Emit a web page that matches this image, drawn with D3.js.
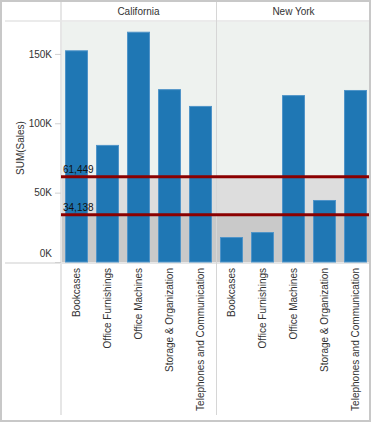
<!DOCTYPE html>
<html>
<head>
<meta charset="utf-8">
<script src="https://cdn.jsdelivr.net/npm/d3@7"></script>
<style>
  body { margin: 0; background: #fff; }
  text { font-family: "Liberation Sans", Arial, sans-serif; font-size: 10px; fill: #333; }
</style>
</head>
<body>
<div id="graph"></div>
<script>
// chart data
var states = ["California", "New York"];
var categories = ["Bookcases", "Office Furnishings", "Office Machines", "Storage & Organization", "Telephones and Communication"];
var californiaSales = [152600, 84400, 166000, 124600, 112500];
var newYorkSales = [18000, 21600, 120300, 44700, 124000];
var refLines = [61449, 34138];
var yTicks = [0, 50000, 100000, 150000];

var salesByState = { "California": californiaSales, "New York": newYorkSales };

var width = 371, height = 422;
var plotLeft = 61, plotRight = 371, plotTop = 22, plotBottom = 262;

var svg = d3.select("#graph")
    .append("svg")
    .attr("width", width)
    .attr("height", height);

// scales
var xState = d3.scaleBand()
    .domain(states)
    .range([plotLeft, plotRight]);

var xCat = d3.scaleBand()
    .domain(categories)
    .range([0, xState.bandwidth()])
    .paddingInner(0.26)
    .paddingOuter(0.13);

var y = d3.scaleLinear()
    .domain([0, 173000])
    .range([plotBottom, plotTop]);

// pane background and reference bands
svg.append("rect")
    .attr("x", plotLeft)
    .attr("y", plotTop)
    .attr("width", plotRight - plotLeft)
    .attr("height", plotBottom - plotTop)
    .attr("fill", "#eef2ef");

svg.append("rect")
    .attr("x", plotLeft)
    .attr("y", y(refLines[0]))
    .attr("width", plotRight - plotLeft)
    .attr("height", y(refLines[1]) - y(refLines[0]))
    .attr("fill", "#dddddd");

svg.append("rect")
    .attr("x", plotLeft)
    .attr("y", y(refLines[1]))
    .attr("width", plotRight - plotLeft)
    .attr("height", y(0) - y(refLines[1]))
    .attr("fill", "#c9c9c9");

// grid lines / dividers
svg.append("line")
    .attr("x1", 5).attr("x2", 369)
    .attr("y1", 21).attr("y2", 21)
    .attr("stroke", "#ebebeb").attr("stroke-width", 2);

svg.append("line")
    .attr("x1", 5).attr("x2", 369)
    .attr("y1", 263).attr("y2", 263)
    .attr("stroke", "#e6e6e6").attr("stroke-width", 2);

svg.append("line")
    .attr("x1", plotLeft).attr("x2", plotLeft)
    .attr("y1", 2).attr("y2", 415)
    .attr("stroke", "#e6e6e6").attr("stroke-width", 2);

svg.append("line")
    .attr("x1", xState("New York") + 0.5).attr("x2", xState("New York") + 0.5)
    .attr("y1", 2).attr("y2", 415)
    .attr("stroke", "#d6d6d6").attr("stroke-width", 1);

// state headers
svg.selectAll(".header")
    .data(states)
    .enter().append("text")
    .attr("class", "header")
    .attr("x", function (d) { return xState(d) + xState.bandwidth() / 2; })
    .attr("y", 11)
    .attr("dy", "0.35em")
    .attr("text-anchor", "middle")
    .text(function (d) { return d; });

// bars + category axis per state
states.forEach(function (s) {
    var g = svg.append("g")
        .attr("transform", "translate(" + xState(s) + ",0)");

    g.selectAll(".bar")
        .data(salesByState[s])
        .enter().append("rect")
        .attr("class", "bar")
        .attr("x", function (d, i) { return xCat(categories[i]) + 0.5; })
        .attr("y", function (d) { return y(d) + 0.5; })
        .attr("width", xCat.bandwidth() - 1)
        .attr("height", function (d) { return y(0) - y(d) - 0.5; })
        .attr("fill", "#1f77b4")
        .attr("stroke", "#4f94c8")
        .attr("stroke-width", 1);

    var ax = g.append("g")
        .attr("transform", "translate(0," + 264 + ")")
        .call(d3.axisBottom(xCat).tickSize(0).tickPadding(0));
    ax.select(".domain").remove();
    ax.selectAll("text")
        .attr("transform", "rotate(-90)")
        .attr("x", -4)
        .attr("y", 0)
        .attr("dy", "0.35em")
        .attr("text-anchor", "end")
        .style("font-family", "'Liberation Sans', Arial, sans-serif")
        .style("font-size", "10px")
        .attr("fill", "#333");
});

// reference lines
svg.selectAll(".ref")
    .data(refLines)
    .enter().append("line")
    .attr("class", "ref")
    .attr("x1", plotLeft).attr("x2", plotRight - 2)
    .attr("y1", function (d) { return y(d); })
    .attr("y2", function (d) { return y(d); })
    .attr("stroke", "#8b0000")
    .attr("stroke-width", 3);

svg.selectAll(".refLabel")
    .data(refLines)
    .enter().append("text")
    .attr("class", "refLabel")
    .attr("x", plotLeft + 2)
    .attr("y", function (d) { return y(d) - 3.5; })
    .style("fill", "#111")
    .text(d3.format(","));

// y axis
var yAxis = svg.append("g")
    .attr("transform", "translate(" + plotLeft + ",0)")
    .call(d3.axisLeft(y)
        .tickValues(yTicks)
        .tickSize(6)
        .tickPadding(3)
        .tickFormat(function (d) { return d / 1000 + "K"; }));
yAxis.select(".domain").remove();
yAxis.selectAll(".tick line").attr("stroke", "#d0d0d0");
yAxis.selectAll(".tick text")
    .style("font-family", "'Liberation Sans', Arial, sans-serif")
    .style("font-size", "10px")
    .attr("fill", "#333");
// bottom label is pushed up to stay inside the pane
yAxis.selectAll(".tick")
    .filter(function (d) { return d === 0; })
    .select("text")
    .attr("y", -9);

svg.append("text")
    .attr("transform", "translate(20,148) rotate(-90)")
    .attr("dy", "0.35em")
    .attr("text-anchor", "middle")
    .text("SUM(Sales)");

// outer border
svg.append("rect")
    .attr("x", 1).attr("y", 1)
    .attr("width", 369).attr("height", 420)
    .attr("fill", "none")
    .attr("stroke", "#c8c8c8")
    .attr("stroke-width", 2);
</script>
</body>
</html>
